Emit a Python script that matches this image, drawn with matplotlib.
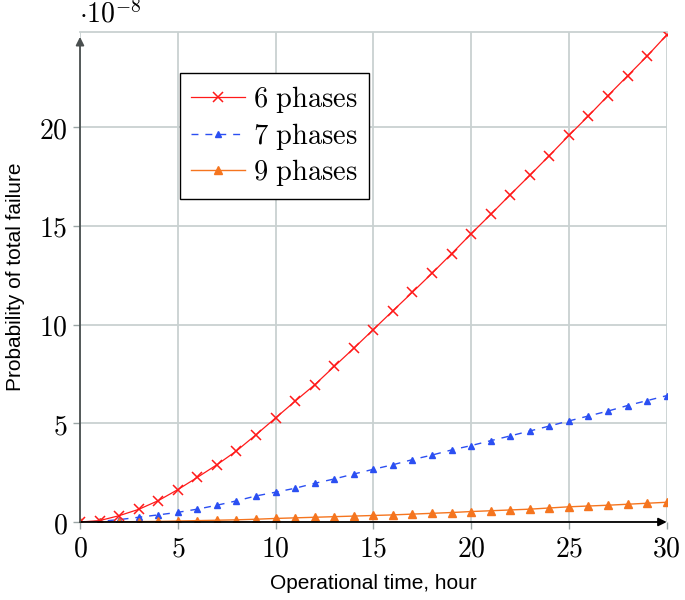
import matplotlib
matplotlib.use("Agg")
import matplotlib.pyplot as plt
from matplotlib.ticker import FuncFormatter

plt.rcParams['mathtext.fontset'] = 'cm'

hours = list(range(0, 31))
phases6 = [0, 0.07, 0.32, 0.64, 1.08, 1.64, 2.26, 2.9, 3.6, 4.42, 5.27, 6.12, 6.95,
           7.88, 8.8, 9.75, 10.7, 11.64, 12.6, 13.59, 14.6, 15.58, 16.58, 17.56,
           18.56, 19.58, 20.57, 21.6, 22.6, 23.6, 24.67]
phases7 = [0, 0.03, 0.12, 0.24, 0.36, 0.49, 0.65, 0.85, 1.07, 1.32, 1.51, 1.71, 1.96,
           2.18, 2.43, 2.67, 2.9, 3.16, 3.39, 3.65, 3.87, 4.12, 4.36, 4.61, 4.86,
           5.12, 5.37, 5.62, 5.9, 6.15, 6.4]
phases9 = [0, 0.005, 0.01, 0.02, 0.03, 0.05, 0.07, 0.09, 0.11, 0.14, 0.18, 0.21, 0.24,
           0.27, 0.3, 0.33, 0.36, 0.4, 0.44, 0.48, 0.53, 0.57, 0.61, 0.65, 0.71,
           0.77, 0.81, 0.85, 0.9, 0.95, 1.0]
labels = ['6 phases', '7 phases', '9 phases']
xticks = [0, 5, 10, 15, 20, 25, 30]
yticks = [0, 5, 10, 15, 20]

W, H = 685, 600
fig = plt.figure(figsize=(W / 100, H / 100), dpi=100)
L, R, B, T = 80, 666.7, 522, 32
ax = fig.add_axes([L / W, (H - B) / H, (R - L) / W, (B - T) / H])

gridc = '#c9d1d1'
ax.set_xlim(0, 30)
ax.set_ylim(0, 24.82)
ax.set_xticks(xticks)
ax.set_yticks(yticks)
ax.grid(True, color=gridc, linewidth=1.3, zorder=0)
ax.set_axisbelow(True)
for s in ['left', 'bottom', 'right']:
    ax.spines[s].set_visible(False)
ax.spines['top'].set_color(gridc)
ax.spines['top'].set_linewidth(1.3)
ax.tick_params(axis='both', direction='out', length=5, width=1.0, color='#9aa5a5',
               labelsize=20, pad=4)
fmt = FuncFormatter(lambda v, p: r'$%d$' % v)
ax.xaxis.set_major_formatter(fmt)
ax.yaxis.set_major_formatter(fmt)

ax.plot(hours, phases6, color='#ff1a1a', lw=0.9, marker='x', ms=7, mew=1.1,
        label=r'$\mathrm{6\ phases}$', zorder=4)
ax.plot(hours, phases7, color='#2b4ff2', lw=1.0, linestyle=(0, (5, 5)), marker='^',
        ms=4.5, label=r'$\mathrm{7\ phases}$', zorder=3)
ax.plot(hours, phases9, color='#f5751f', lw=1.0, marker='^', ms=5.5,
        label=r'$\mathrm{9\ phases}$', zorder=3)

# axis arrows
ax.annotate('', xy=(1.0, 0), xytext=(0, 0), xycoords='axes fraction',
            arrowprops=dict(arrowstyle='-|>', color='black', lw=1.3,
                            mutation_scale=12, shrinkA=0, shrinkB=0), zorder=5)
ax.annotate('', xy=(0, 0.99), xytext=(0, 0), xycoords='axes fraction',
            arrowprops=dict(arrowstyle='-|>', color='#4a4f4f', lw=1.3,
                            mutation_scale=12, shrinkA=0, shrinkB=0), zorder=5)

ax.text(0.052, 1.036, r'$\cdot 10^{-8}$', transform=ax.transAxes, fontsize=20,
        ha='center', va='center')

ax.set_xlabel('Operational time, hour', fontsize=15, family='Liberation Sans', labelpad=8)
ax.set_ylabel('Probability of total failure', fontsize=15, family='Liberation Sans',
              labelpad=10)

leg = ax.legend(loc='upper left', bbox_to_anchor=(180 / W, 1 - 73 / H),
                bbox_transform=fig.transFigure, fontsize=20.5, frameon=True,
                fancybox=False, edgecolor='black', framealpha=1, handlelength=1.9,
                handletextpad=0.3, labelspacing=0.2, borderpad=0.38, borderaxespad=0)
leg.get_frame().set_linewidth(1.0)

fig.savefig('out.png', dpi=100)
